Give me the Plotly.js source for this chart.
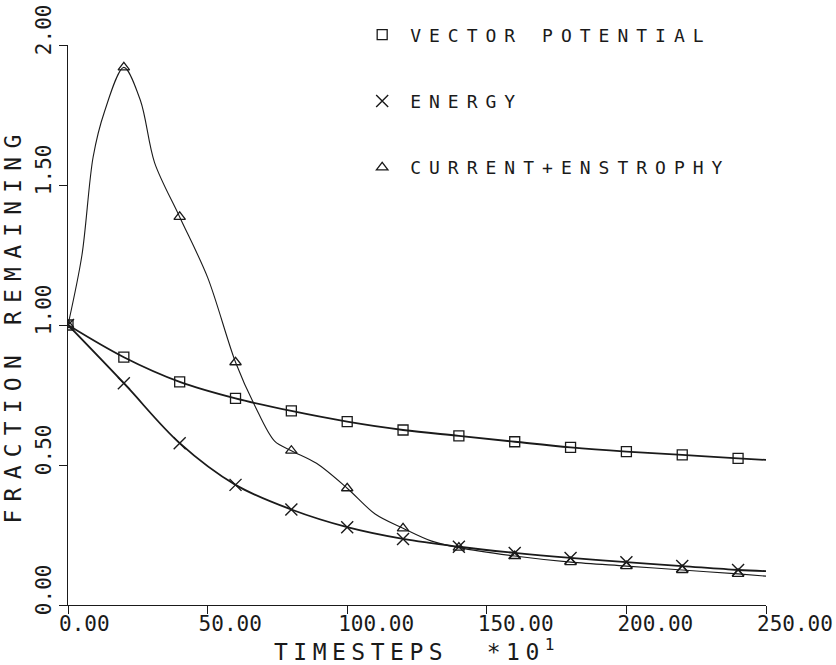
<!DOCTYPE html>
<html>
<head>
<meta charset="utf-8">
<script src="https://cdn.plot.ly/plotly-3.0.1.min.js"></script>
<style>
  html, body { margin: 0; padding: 0; background: #fff; }
  #chart { width: 836px; height: 665px; }
  .legendtext { letter-spacing: 8px; }
  .ytitle { letter-spacing: 8.2px; }
  .xtitle { letter-spacing: 5.5px; }
</style>
</head>
<body>
<div id="chart"></div>
<script>
// Sampled time steps (x10) where markers are drawn
const steps = [0, 20, 40, 60, 80, 100, 120, 140, 160, 180, 200, 220, 240];
const vectorPotential = [1.00, 0.885, 0.797, 0.738, 0.693, 0.655, 0.625, 0.604, 0.583, 0.563, 0.548, 0.536, 0.524];
const energy          = [1.00, 0.792, 0.578, 0.429, 0.341, 0.278, 0.236, 0.208, 0.186, 0.168, 0.153, 0.139, 0.125];
const currentEnstrophy= [1.00, 1.920, 1.386, 0.867, 0.551, 0.417, 0.274, 0.205, 0.175, 0.153, 0.139, 0.125, 0.111];

// Curves (smooth lines), extending to the end of the run
const curveSteps = [0, 20, 40, 60, 80, 100, 120, 140, 160, 180, 200, 220, 240, 250];
const vectorCurve = [1.00, 0.885, 0.797, 0.738, 0.693, 0.655, 0.625, 0.604, 0.583, 0.563, 0.548, 0.536, 0.524, 0.518];
const energyCurve = [1.00, 0.792, 0.578, 0.429, 0.341, 0.278, 0.236, 0.208, 0.186, 0.168, 0.153, 0.139, 0.125, 0.121];
const enstrophySteps = [0, 5, 9, 13, 20, 26, 31, 40, 50, 60, 67, 74, 80, 89, 100, 110, 120, 130, 140, 160, 180, 200, 220, 240, 250];
const enstrophyCurve = [1.00, 1.25, 1.60, 1.76, 1.92, 1.80, 1.58, 1.386, 1.17, 0.867, 0.71, 0.585, 0.551, 0.506, 0.417, 0.325, 0.274, 0.229, 0.205, 0.175, 0.153, 0.139, 0.125, 0.111, 0.103];

const seriesNames = ['VECTOR POTENTIAL', 'ENERGY', 'CURRENT+ENSTROPHY'];
const xTickVals = [0, 50, 100, 150, 200, 250];
const yTickVals = [0, 0.5, 1.0, 1.5, 2.0];

const ink = '#1a1a1a';
const font = 'DejaVu Sans Mono, Liberation Mono, monospace';

const traces = [
  {x: curveSteps, y: vectorCurve, mode: 'lines', line: {color: ink, width: 1.8, shape: 'spline'}, showlegend: false, hoverinfo: 'skip'},
  {x: curveSteps, y: energyCurve, mode: 'lines', line: {color: ink, width: 1.8, shape: 'spline'}, showlegend: false, hoverinfo: 'skip'},
  {x: enstrophySteps, y: enstrophyCurve, mode: 'lines', line: {color: ink, width: 1.1, shape: 'spline', smoothing: 0.9}, showlegend: false, hoverinfo: 'skip'},
  {x: steps, y: vectorPotential, name: seriesNames[0], mode: 'markers', legendgroup: 'a',
   marker: {symbol: 'square-open', size: 10, color: ink, line: {width: 1.3, color: ink}}},
  {x: steps, y: energy, name: seriesNames[1], mode: 'markers', legendgroup: 'b',
   marker: {symbol: 'x-thin-open', size: 12, color: ink, line: {width: 1.4, color: ink}}},
  {x: steps, y: currentEnstrophy, name: seriesNames[2], mode: 'markers', legendgroup: 'c',
   marker: {symbol: 'triangle-up-open', size: 10, color: ink, line: {width: 1.3, color: ink}}}
];

const layout = {
  width: 836, height: 665,
  margin: {l: 68, r: 70, t: 45, b: 60},
  paper_bgcolor: '#fff', plot_bgcolor: '#fff',
  font: {family: font, color: ink, size: 20},
  showlegend: true,
  legend: {
    x: 0.41, xanchor: 'left', y: 1.051, yanchor: 'top',
    font: {family: font, size: 18, color: ink},
    tracegroupgap: 40, itemwidth: 46, bgcolor: 'rgba(0,0,0,0)', borderwidth: 0,
    traceorder: 'grouped'
  },
  xaxis: {
    range: [0, 250], tickvals: xTickVals, tickformat: '.2f',
    showline: true, linecolor: ink, linewidth: 1,
    ticks: 'outside', ticklen: 8, tickcolor: ink, tickwidth: 1,
    showgrid: false, zeroline: false,
    ticklabelposition: 'outside right', ticklabelshift: -10,
    tickfont: {family: font, size: 21, color: ink},
    title: {text: 'TIMESTEPS\u00a0\u00a0*10<sup>1</sup>', font: {family: font, size: 23, color: ink}, standoff: 6}
  },
  yaxis: {
    range: [0, 2], tickvals: yTickVals, tickformat: '.2f',
    showline: true, linecolor: ink, linewidth: 1,
    ticks: 'outside', ticklen: 8, tickcolor: ink, tickwidth: 1,
    showgrid: false, zeroline: false,
    tickangle: -90, ticklabelshift: -12,
    tickfont: {family: font, size: 21, color: ink},
    title: {text: 'FRACTION REMAINING', font: {family: font, size: 23, color: ink}, standoff: 8}
  }
};

Plotly.newPlot('chart', traces, layout, {staticPlot: true, displayModeBar: false});
</script>
</body>
</html>
